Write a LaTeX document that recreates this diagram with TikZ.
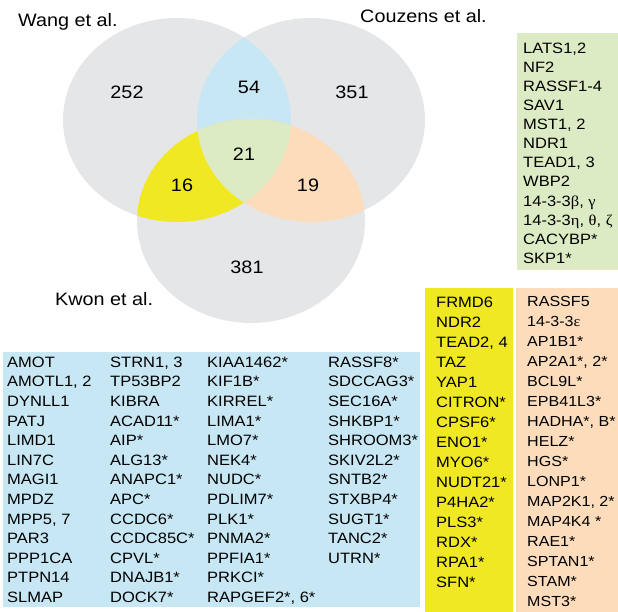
\documentclass[tikz,border=0pt]{standalone}
\usepackage{fontspec}
\setmainfont{Liberation Sans}[FakeStretch=1.1]
\newfontfamily\grk{Liberation Serif}[FakeStretch=1.1]
\usepackage{xcolor}
\usepackage{tikz}
\usetikzlibrary{positioning}

\definecolor{vgrey}{RGB}{229,230,232}
\definecolor{vblue}{RGB}{200,231,244}
\definecolor{vgreen}{RGB}{221,235,196}
\definecolor{vyellow}{RGB}{240,232,34}
\definecolor{vorange}{RGB}{252,220,186}

\newcommand{\wangset}{(177,120) ellipse [x radius=114pt, y radius=102pt]}
\newcommand{\couzset}{(311,120) ellipse [x radius=114pt, y radius=102pt]}
\newcommand{\kwonset}{(251,221) ellipse [x radius=114pt, y radius=102pt]}

\begin{document}
\begin{tikzpicture}[
    x=1pt, y=-1pt,
    study/.style={anchor=base west, inner sep=0pt, font=\fontsize{18}{20}\selectfont},
    count/.style={inner sep=0pt, font=\fontsize{18}{20}\selectfont},
    genes/.style={anchor=north west, inner sep=0pt, align=left, font=\fontsize{15}{19.6}\selectfont},
    genes20/.style={genes, font=\fontsize{15}{20}\selectfont},
    genes19/.style={genes, font=\fontsize{15}{19.1}\selectfont}
]
\useasboundingbox (0,0) rectangle (618,612);

\fill[vgrey] \wangset;
\fill[vgrey] \couzset;
\fill[vgrey] \kwonset;
\begin{scope}
    \clip \wangset;
    \fill[vblue] \couzset;
\end{scope}
\begin{scope}
    \clip \wangset;
    \fill[vyellow] \kwonset;
\end{scope}
\begin{scope}
    \clip \couzset;
    \fill[vorange] \kwonset;
\end{scope}
\begin{scope}
    \clip \wangset;
    \clip \couzset;
    \fill[vgreen] \kwonset;
\end{scope}

\node[study] (wang) at (18,26.5) {Wang et al.};
\node[study] (couzens) at (360,23) {Couzens et al.};
\node[study] (kwon) at (55,305) {Kwon et al.};

\node[count] (n252) at (127,92) {252};
\node[count] (n54) at (249,87) {54};
\node[count] (n351) at (352,92) {351};
\node[count] (n21) at (244,154) {21};
\node[count] (n16) at (182,185) {16};
\node[count] (n19) at (308,185) {19};
\node[count] (n381) at (247,267) {381};

\fill[vgreen] (517,33) rectangle (618,270);
\fill[vyellow] (425,288) rectangle (513,612);
\fill[vorange] (516,288) rectangle (618,612);
\fill[vblue] (3,352) rectangle (420,607);

\node[genes19] (core) at (523,42.6) {LATS1,2\\NF2\\RASSF1-4\\SAV1\\MST1, 2\\NDR1\\TEAD1, 3\\WBP2\\14-3-3{\grk β}, {\grk γ}\\14-3-3{\grk η}, {\grk θ}, {\grk ζ}\\CACYBP*\\SKP1*};

\node[genes20] (wangkwon) at (436,296.6) {FRMD6\\NDR2\\TEAD2, 4\\TAZ\\YAP1\\CITRON*\\CPSF6*\\ENO1*\\MYO6*\\NUDT21*\\P4HA2*\\PLS3*\\RDX*\\RPA1*\\SFN*};
\node[genes20, font=\fontsize{14.6}{20}\selectfont] (couzkwon) at (527,296.6) {RASSF5\\14-3-3{\grk ε}\\AP1B1*\\AP2A1*, 2*\\BCL9L*\\EPB41L3*\\HADHA*, B*\\HELZ*\\HGS*\\LONP1*\\MAP2K1, 2*\\MAP4K4 *\\RAE1*\\SPTAN1*\\STAM*\\MST3*};

\node[genes] (wangcouz1) at (7,356.6) {AMOT\\AMOTL1, 2\\DYNLL1\\PATJ\\LIMD1\\LIN7C\\MAGI1\\MPDZ\\MPP5, 7\\PAR3\\PPP1CA\\PTPN14\\SLMAP};
\node[genes] (wangcouz2) at (110,356.6) {STRN1, 3\\TP53BP2\\KIBRA\\ACAD11*\\AIP*\\ALG13*\\ANAPC1*\\APC*\\CCDC6*\\CCDC85C*\\CPVL*\\DNAJB1*\\DOCK7*};
\node[genes] (wangcouz3) at (207,356.6) {KIAA1462*\\KIF1B*\\KIRREL*\\LIMA1*\\LMO7*\\NEK4*\\NUDC*\\PDLIM7*\\PLK1*\\PNMA2*\\PPFIA1*\\PRKCI*\\RAPGEF2*, 6*};
\node[genes] (wangcouz4) at (328,356.6) {RASSF8*\\SDCCAG3*\\SEC16A*\\SHKBP1*\\SHROOM3*\\SKIV2L2*\\SNTB2*\\STXBP4*\\SUGT1*\\TANC2*\\UTRN*};

\end{tikzpicture}
\end{document}
